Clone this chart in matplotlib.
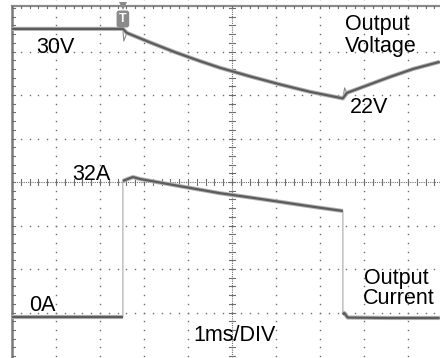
import numpy as np
import matplotlib.pyplot as plt

plt.rcParams['font.family'] = ['Liberation Sans', 'DejaVu Sans']

# scope settings: 1 ms/div, 5 V/div, 10 A/div (screen 10 x 8 divisions)
trig_div = 2.52          # trigger position (divisions from left)
v_ref_div, v_per_div = 7.52, 5.0   # 30 V sits at this division
i_zero_div, i_per_div = 0.874, 10.0

# output voltage trace (time in ms from trigger, volts)
v_time = [-2.52, 0.0, 0.02, 0.09, 0.61, 1.18, 1.75, 2.2, 2.89, 3.57, 4.25, 5.0, 5.04, 5.09, 5.6, 6.07, 6.6, 7.2]
v_volt = [30.0, 30.0, 28.6, 29.54, 28.46, 27.33, 26.3, 25.54, 24.54, 23.62, 22.77, 22.01, 23.22, 22.64, 23.6, 24.48, 25.4, 26.21]
v_spikes = [2, 12]

# output current trace (time in ms, amps)
i_time = [-2.52, 0.0, 0.0, 0.11, 0.23, 0.39, 1.3, 2.2, 2.9, 3.57, 4.3, 5.0, 5.0, 5.03, 5.11, 6.0, 7.2]
i_amp = [0.2, 0.2, 31.5, 31.95, 32.4, 31.95, 30.3, 28.7, 27.7, 26.7, 25.6, 24.6, 0.8, 1.15, 0.1, 0.0, 0.0]

fig = plt.figure(figsize=(4.4, 3.58), dpi=100)
ax = fig.add_axes([0, 0, 1, 1])
ax.set_xlim(-12 / 44, 428 / 44)
ax.set_ylim(-2 / 43.5, 356 / 43.5)
ax.axis('off')

grid_c = '#6e6e6e'
tk = 0.07  # tick half length in divisions

# dotted graticule
sub = np.arange(0, 10.01, 0.2)
subv = np.arange(0, 8.3, 0.2)
for gx in [1, 2, 3, 4, 6, 7, 8, 9]:
    ax.plot(np.full_like(subv, gx), subv, ls='none', marker='s', ms=1.0, mew=0, color=grid_c)
for gy in [1, 2, 3, 5, 6, 7]:
    ax.plot(sub, np.full_like(sub, gy), ls='none', marker='s', ms=1.0, mew=0, color=grid_c)

# centre cross with minor ticks
ax.plot([5, 5], [-0.1, 8.06], color=grid_c, lw=0.8, ls=(0, (1, 1)))
ax.plot([0, 10], [4, 4], color=grid_c, lw=0.8, ls=(0, (1, 1)))
for s in sub:
    ax.plot([s, s], [4 - tk, 4 + tk], color=grid_c, lw=0.8)
for s in subv:
    ax.plot([5 - tk, 5 + tk], [s, s], color=grid_c, lw=0.8)

# screen border (left and top) with ticks
top = 8.057
ax.plot([0, 0], [-0.1, top], color='#7a7a7a', lw=1.8)
ax.plot([0, 10], [top, top], color='#8a8a8a', lw=1.6)
for s in subv:
    if s < top:
        ax.plot([0, 0.07], [s, s], color=grid_c, lw=0.8)
for s in sub:
    ax.plot([s, s], [top, top - 0.06], color=grid_c, lw=0.8)

# traces
vx = trig_div + np.array(v_time)
vy = v_ref_div + (np.array(v_volt) - 30) / v_per_div
ix = trig_div + np.array(i_time)
iy = i_zero_div + np.array(i_amp) / i_per_div

ax.plot(vx, vy, color='#8a8a8a', lw=0.8)
keep = [k for k in range(len(vx)) if k not in v_spikes]
ax.plot(vx[keep], vy[keep], color='#b4b4b4', lw=3.0, solid_capstyle='butt')
ax.plot(vx[keep], vy[keep], color='#5c5c5c', lw=1.6, solid_capstyle='butt')

ax.plot(ix, iy, color='#a8a8a8', lw=0.8)
segs = [(0, 2), (2, 12), (12, len(ix))]
for a, b in segs:
    ax.plot(ix[a:b], iy[a:b], color='#b4b4b4', lw=3.0, solid_capstyle='butt')
    ax.plot(ix[a:b], iy[a:b], color='#5c5c5c', lw=1.6, solid_capstyle='butt')

# trigger marker
ax.plot([trig_div], [(356 - 6.5) / 43.5], marker='v', ms=6, color='#8a8a8a', mew=0)
ax.text(trig_div, (356 - 19) / 43.5, 'T', ha='center', va='center', color='white',
        fontsize=9, fontweight='bold',
        bbox=dict(boxstyle='round,pad=0.2', fc='#8a8a8a', ec='none'))


def px(x, y):
    return (x - 12) / 44, (356 - y) / 43.5


labels = [
    ('30V', 36, 53), ('Output', 345, 30), ('Voltage', 345, 52), ('22V', 350, 113),
    ('32A', 72, 180), ('0A', 29, 311), ('Output', 364, 284), ('Current', 363, 304),
    ('1ms/DIV', 193, 341),
]
for s, x, y in labels:
    dx, dy = px(x, y)
    ax.text(dx, dy, s, ha='left', va='baseline', fontsize=15.5, color='black')

fig.savefig('out.png', dpi=100)
